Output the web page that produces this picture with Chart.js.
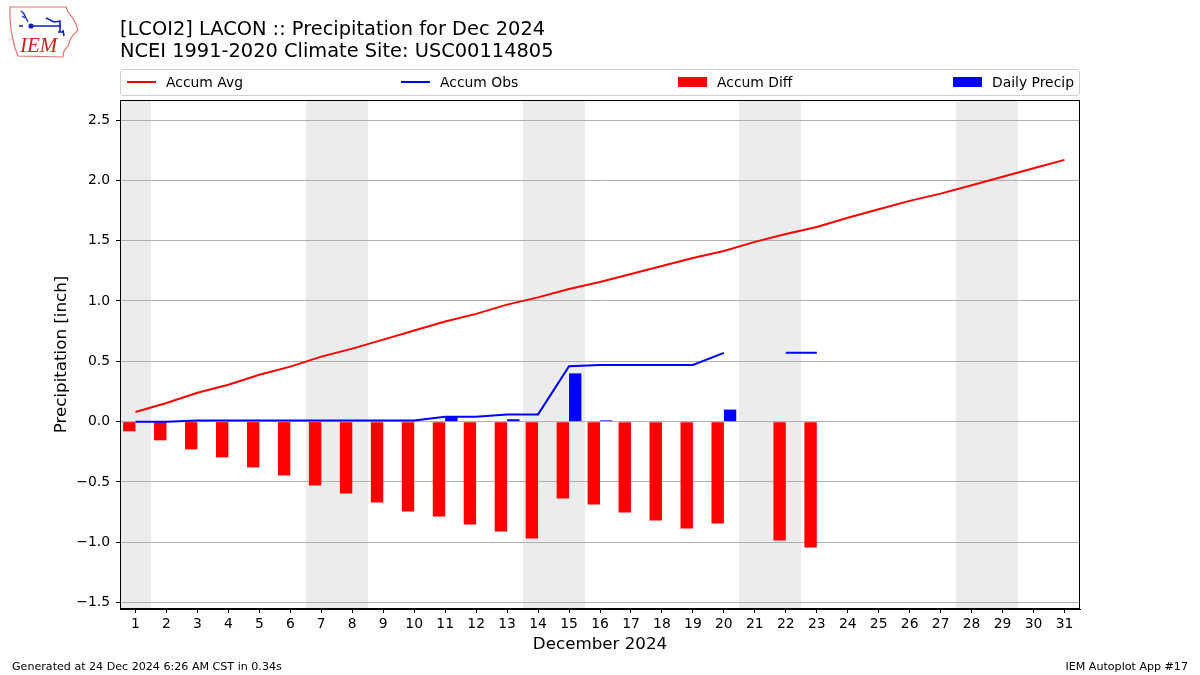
<!DOCTYPE html>
<html>
<head>
<meta charset="utf-8">
<script src="https://cdn.jsdelivr.net/npm/chart.js@4/dist/chart.umd.min.js"></script>
<style>
  html, body { margin: 0; padding: 0; background: #fff; }
  #wrap { position: relative; width: 1200px; height: 675px; overflow: hidden; font-family: "DejaVu Sans", sans-serif; color: #000; }
  #c { position: absolute; left: 0; top: 0; }
  .title { position: absolute; left: 120px; font-size: 19.4px; line-height: 22px; white-space: nowrap; }
  #legend { position: absolute; left: 120px; top: 69px; width: 958px; height: 25px; border: 1px solid #d0d0d0; border-radius: 3px; font-size: 13.9px; }
  .li { position: absolute; top: -1px; height: 25px; display: flex; align-items: center; white-space: nowrap; }
  .li .h { display: inline-block; width: 29px; margin-right: 10px; }
  .foot { position: absolute; top: 660px; font-size: 11.1px; white-space: nowrap; }
</style>
</head>
<body>
<div id="wrap">
  <canvas id="c" width="1200" height="675"></canvas>
  <svg style="position:absolute;left:6px;top:4px" width="76" height="56" viewBox="0 0 76 56">
    <path d="M4,3 L60,3 L62,8 L66,13 L70,20 L72,26 L67,31 L64,36 L62,42 L58,47 L57,53 L12,52 L9,44 L7,36 L5,26 L4,15 Z" fill="none" stroke="#e07070" stroke-width="1.2"/>
    <path d="M15,7 L18,10 L20,14 L22,18 M16,12 L19,14" stroke="#2030c0" stroke-width="1.4" fill="none"/>
    <circle cx="25" cy="22" r="2.6" fill="#1020c0"/>
    <path d="M25,22 L55,22 M40,14 L48,18 L55,17 M54,18 L54,28 M52,28 L57,28 M57,26 L58,32 M13,22 L17,22" stroke="#1020c0" stroke-width="1.6" fill="none"/>
    <text x="14" y="48" font-family="Liberation Serif, serif" font-style="italic" font-size="21" fill="#d02020">IEM</text>
  </svg>
  <div class="title" style="top:18px">[LCOI2] LACON :: Precipitation for Dec 2024</div>
  <div class="title" style="top:40px">NCEI 1991-2020 Climate Site: USC00114805</div>
  <div id="legend"></div>
  <div class="foot" style="left:12px">Generated at 24 Dec 2024 6:26 AM CST in 0.34s</div>
  <div class="foot" style="right:12px">IEM Autoplot App #17</div>
</div>
<script>
// ---- data ----
const days = [1,2,3,4,5,6,7,8,9,10,11,12,13,14,15,16,17,18,19,20,21,22,23,24,25,26,27,28,29,30,31];
const accumAvg = [0.08,0.155,0.24,0.306,0.389,0.456,0.539,0.605,0.68,0.755,0.83,0.893,0.97,1.03,1.10,1.157,1.223,1.29,1.356,1.415,1.49,1.556,1.614,1.69,1.76,1.83,1.89,1.96,2.03,2.10,2.17];
const accumObs = [0.0,0.0,0.01,0.01,0.01,0.01,0.01,0.01,0.01,0.01,0.04,0.04,0.06,0.06,0.46,0.47,0.47,0.47,0.47,0.57,null,0.57,0.57,null,null,null,null,null,null,null,null];
const accumDiff = [-0.08,-0.155,-0.23,-0.296,-0.379,-0.446,-0.529,-0.595,-0.67,-0.745,-0.786,-0.853,-0.911,-0.969,-0.637,-0.687,-0.753,-0.82,-0.886,-0.845,null,-0.986,-1.044,null,null,null,null,null,null,null,null];
const dailyPrecip = [0,0,0.01,0,0,0,0,0,0,0,0.04,0,0.02,0,0.40,0.01,0,0,0,0.10,null,0,0,null,null,null,null,null,null,null,null];
const weekendDays = [1,7,8,14,15,21,22,28,29];
const yTicks = [-1.5,-1.0,-0.5,0.0,0.5,1.0,1.5,2.0,2.5];
const seriesNames = ['Accum Avg','Accum Obs','Accum Diff','Daily Precip'];
const seriesColors = ['#ff0000','#0000ff','#ff0000','#0000ff'];

const FONT = "'DejaVu Sans', sans-serif";

const shadePlugin = {
  id: 'shade',
  beforeDraw(chart) {
    const {ctx, chartArea: a, scales: {x}} = chart;
    ctx.save();
    ctx.fillStyle = '#ffffff';
    ctx.fillRect(0, 0, chart.width, chart.height);
    const step = (a.right - a.left) / days.length;
    ctx.fillStyle = '#ececec';
    weekendDays.forEach(d => {
      const px = x.getPixelForValue(days.indexOf(d));
      const l = Math.round(Math.max(a.left, px - step / 2)), r = Math.round(Math.min(a.right, px + step / 2));
      ctx.fillRect(l, a.top, r - l, a.bottom - a.top);
    });
    ctx.restore();
  },
  afterDraw(chart) {
    const {ctx, chartArea: a} = chart;
    ctx.save();
    ctx.strokeStyle = '#000';
    ctx.lineWidth = 1;
    ctx.strokeRect(Math.round(a.left) + 0.5, Math.round(a.top) + 0.5, Math.round(a.right - a.left) - 1, Math.round(a.bottom - a.top) - 1);
    ctx.restore();
  }
};

const chart = new Chart(document.getElementById('c'), {
  type: 'bar',
  data: {
    labels: days.map(String),
    datasets: [
      { type: 'line', label: seriesNames[0], data: accumAvg, borderColor: seriesColors[0], backgroundColor: seriesColors[0], borderWidth: 2, pointRadius: 0, tension: 0, order: 0, spanGaps: false },
      { type: 'line', label: seriesNames[1], data: accumObs, borderColor: seriesColors[1], backgroundColor: seriesColors[1], borderWidth: 2, pointRadius: 0, tension: 0, order: 1, spanGaps: false },
      { type: 'bar', label: seriesNames[2], data: accumDiff, backgroundColor: seriesColors[2], borderWidth: 0, categoryPercentage: 0.8, barPercentage: 1.0, order: 2 },
      { type: 'bar', label: seriesNames[3], data: dailyPrecip, backgroundColor: seriesColors[3], borderWidth: 0, categoryPercentage: 0.8, barPercentage: 1.0, order: 3 }
    ]
  },
  options: {
    responsive: false,
    animation: false,
    devicePixelRatio: 1,
    layout: { padding: { left: 0, right: 120, top: 100, bottom: 0 } },
    plugins: { legend: { display: false }, tooltip: { enabled: false }, title: { display: false } },
    scales: {
      x: {
        type: 'category',
        offset: true,
        grid: { display: true, drawOnChartArea: false, drawTicks: true, tickLength: 4, tickColor: '#000', offset: false },
        border: { display: true, color: '#000' },
        ticks: { color: '#000', font: { family: FONT, size: 13.9 }, padding: 3, maxRotation: 0, autoSkip: false },
        title: { display: true, text: 'December 2024', color: '#000', font: { family: FONT, size: 16.7 }, padding: { top: 0, bottom: 20 } },
        afterFit(s) { s.height = 66; }
      },
      y: {
        type: 'linear',
        min: -1.553,
        max: 2.666,
        afterBuildTicks(s) { s.ticks = yTicks.map(v => ({ value: v })); },
        grid: { color: '#b0b0b0', lineWidth: 1, drawTicks: true, tickLength: 4, tickColor: '#000' },
        border: { display: true, color: '#000' },
        ticks: { color: '#000', font: { family: FONT, size: 13.9 }, padding: 6, callback: v => v.toFixed(1).replace('-', '\u2212') },
        title: { display: true, text: 'Precipitation [inch]', color: '#000', font: { family: FONT, size: 16.7 }, padding: { top: 52, bottom: 0 } },
        afterFit(s) { s.width = 120; }
      }
    }
  },
  plugins: [shadePlugin]
});

// ---- HTML legend built from datasets ----
const legendX = [6, 280, 557, 832];
const lg = document.getElementById('legend');
chart.data.datasets.forEach((ds, i) => {
  const item = document.createElement('div');
  item.className = 'li';
  item.style.left = legendX[i] + 'px';
  const h = document.createElement('span');
  h.className = 'h';
  if (ds.type === 'line') { h.style.height = '2px'; h.style.background = ds.borderColor; }
  else { h.style.height = '10px'; h.style.background = ds.backgroundColor; }
  item.appendChild(h);
  item.appendChild(document.createTextNode(ds.label));
  lg.appendChild(item);
});
</script>
</body>
</html>
